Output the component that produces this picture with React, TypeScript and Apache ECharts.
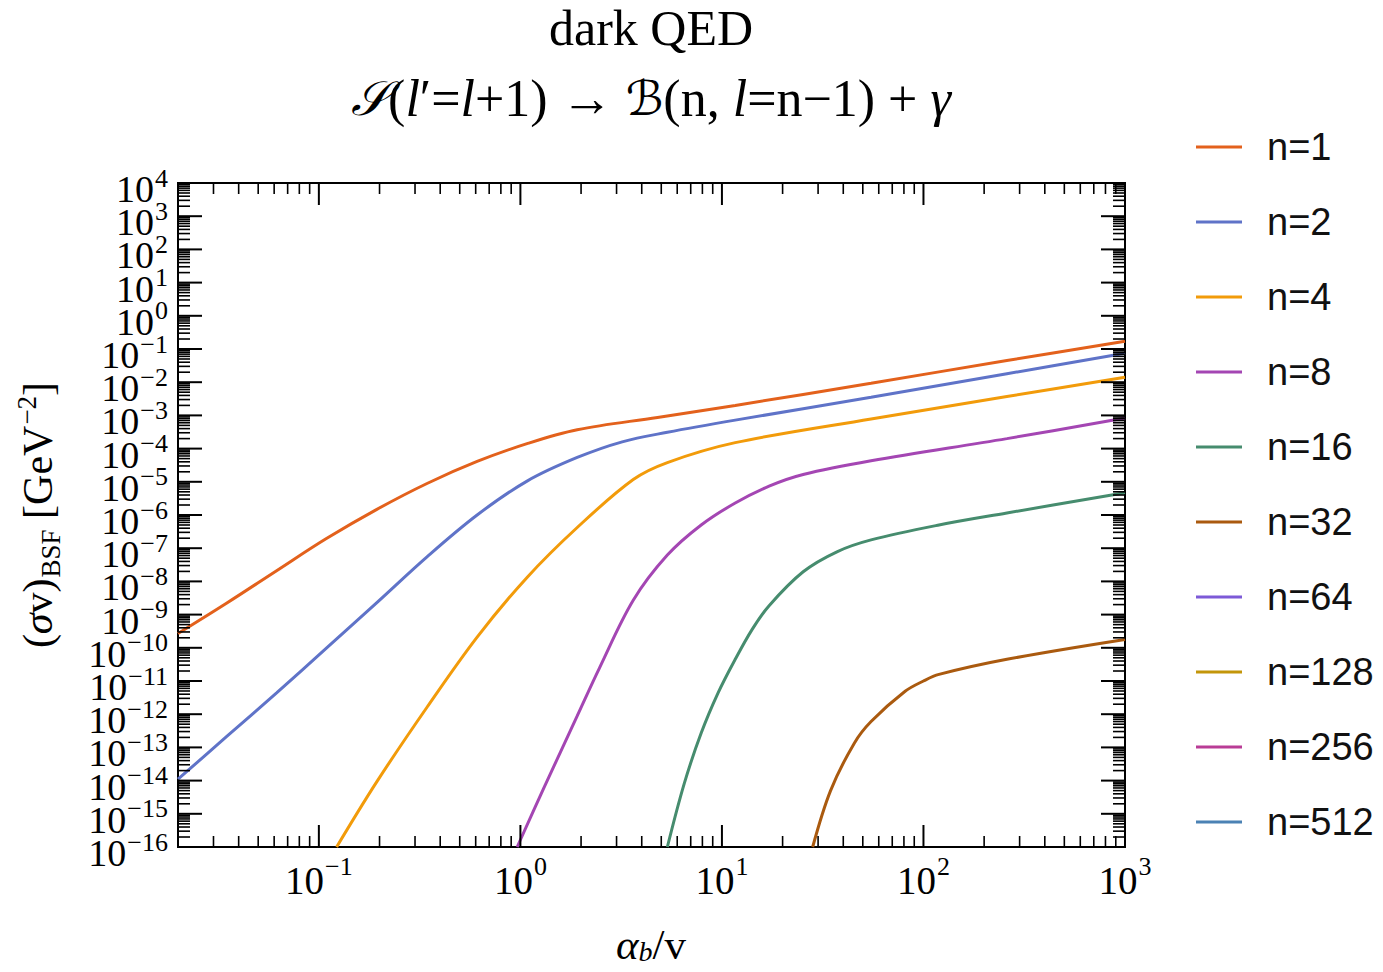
import React, { useEffect, useRef } from "react";
import * as echarts from "echarts";

// ---------- data ----------
const seriesNames = ["n=1", "n=2", "n=4", "n=8", "n=16", "n=32", "n=64", "n=128", "n=256", "n=512"];
const seriesColors = ["#e3611c", "#5f73c8", "#f29b0a", "#a446b3", "#468c6e", "#aa5a0f", "#7d5ad7", "#c3960a", "#b93c96", "#4b82b4"];

// x = alpha_b / v ; y = (sigma v)_BSF [GeV^-2]
const n1X = [0.02, 0.0348, 0.0617, 0.109, 0.194, 0.344, 0.61, 1.079, 1.914, 4.79, 11.64, 54.95, 259.4, 1000];
const n1Y = [2.7e-10, 2.2e-9, 2.1e-8, 1.95e-7, 1.48e-6, 8.9e-6, 4.1e-5, 1.41e-4, 3.7e-4, 8.7e-4, 2.0e-3, 9.3e-3, 4.5e-2, 0.17];

const n2X = [0.02, 0.0348, 0.0617, 0.109, 0.194, 0.344, 0.61, 1.079, 1.914, 3.2, 5.36, 11.64, 54.95, 259.4, 1000];
const n2Y = [1.1e-14, 2.1e-13, 4.4e-12, 9.8e-11, 2.3e-9, 5.5e-8, 1.0e-6, 1.05e-5, 5.4e-5, 1.6e-4, 3.1e-4, 7.2e-4, 3.5e-3, 1.8e-2, 7.4e-2];

const n4X = [0.1225, 0.194, 0.344, 0.61, 1.079, 1.914, 3.63, 5.36, 11.64, 54.95, 259.4, 1000];
const n4Y = [1e-16, 9.3e-15, 1.62e-12, 2.1e-10, 1.32e-8, 4.2e-7, 1.17e-5, 3.8e-5, 1.51e-4, 7.8e-4, 3.7e-3, 1.41e-2];

const n8X = [0.964, 1.306, 1.914, 2.47, 3.63, 5.36, 7.89, 11.64, 17.14, 25.3, 54.95, 259.4, 1000];
const n8Y = [1e-16, 5.9e-15, 8.9e-13, 2.5e-11, 2.7e-9, 6.2e-8, 5.0e-7, 2.3e-6, 7.4e-6, 1.66e-5, 4.3e-5, 2.0e-4, 8.3e-4];

const n16X = [5.36, 6.5, 7.89, 9.57, 11.64, 14.13, 17.14, 25.3, 37.2, 54.95, 119.4, 259.4, 1000];
const n16Y = [1e-16, 8.1e-15, 2.7e-13, 4.4e-12, 4.5e-11, 3.6e-10, 1.86e-9, 1.95e-8, 7.8e-8, 1.78e-7, 5.0e-7, 1.15e-6, 4.7e-6];

const n32X = [28.2, 34.6, 45.3, 54.95, 81.1, 100, 119.4, 259.4, 1000];
const n32Y = [1e-16, 5.0e-15, 1.32e-13, 6.0e-13, 4.9e-12, 1.0e-11, 1.58e-11, 4.5e-11, 1.78e-10];

// n = 64 ... 512 lie below the plotted range: no visible points
const seriesX = [n1X, n2X, n4X, n8X, n16X, n32X, [], [], [], []];
const seriesY = [n1Y, n2Y, n4Y, n8Y, n16Y, n32Y, [], [], [], []];

const X_MIN = 0.02;
const X_MAX = 1000;
const Y_MIN = 1e-16;
const Y_MAX = 1e4;
const xTickExponents = [-1, 0, 1, 2, 3];
const yTickExponents = [-16, -15, -14, -13, -12, -11, -10, -9, -8, -7, -6, -5, -4, -3, -2, -1, 0, 1, 2, 3, 4];

const SERIF = "'Liberation Serif', 'Times New Roman', serif";
const SANS = "'Liberation Sans', Arial, sans-serif";

const expText = (e: number) => (e < 0 ? "\u2212" + String(-e) : String(e));

function buildTicks() {
  // [x, y, kind] kind: 1 x-minor, 2 x-major, 3 y-minor, 4 y-major (labelled)
  const out: number[][] = [];
  for (let d = -2; d <= 3; d++) {
    for (let m = 1; m <= 9; m++) {
      const v = m * Math.pow(10, d);
      if (v < X_MIN * 0.999 || v > X_MAX * 1.001) continue;
      out.push([v, 1, m === 1 ? 2 : 1]);
    }
  }
  for (let d = -16; d <= 4; d++) {
    for (let m = 1; m <= 9; m++) {
      const v = m * Math.pow(10, d);
      if (v < Y_MIN * 0.999 || v > Y_MAX * 1.001) continue;
      out.push([1, v, m === 1 ? 4 : 3]);
    }
  }
  return out;
}

const yLabelRich = {
  b: { fontFamily: SERIF, fontSize: 38, lineHeight: 38, fill: "#000", padding: [6, 0, 10, 0], verticalAlign: "top" },
  s: { fontFamily: SERIF, fontSize: 26, lineHeight: 26, fill: "#000", padding: [1, 0, 0, 1], verticalAlign: "top" },
};

export default function App() {
  const ref = useRef<HTMLDivElement>(null);
  useEffect(() => {
    document.body.style.margin = "0";
    if (!ref.current) return;
    const chart = echarts.init(ref.current, null, { renderer: "svg" });

    const lineSeries = seriesNames.map((name, i) => ({
      name,
      type: "line",
      data: seriesX[i].map((x, j) => [x, seriesY[i][j]]),
      showSymbol: false,
      symbol: "none",
      smooth: 0.35,
      clip: true,
      z: 3,
      color: seriesColors[i],
      lineStyle: { width: 3, color: seriesColors[i] },
      itemStyle: { color: seriesColors[i] },
    }));

    const tickSeries = {
      type: "custom",
      name: "ticks",
      data: buildTicks(),
      encode: { x: 0, y: 1 },
      clip: false,
      silent: true,
      z: 5,
      renderItem: (_p: any, api: any) => {
        const a = api.value(0);
        const b = api.value(1);
        const k = api.value(2);
        const st = { stroke: "#000", lineWidth: k === 2 || k === 4 ? 2 : 1.6 };
        if (k <= 2) {
          const len = k === 2 ? 22 : 11;
          const p1 = api.coord([a, Y_MIN]);
          const p2 = api.coord([a, Y_MAX]);
          return {
            type: "group",
            children: [
              { type: "line", shape: { x1: p1[0], y1: p1[1], x2: p1[0], y2: p1[1] - len }, style: st },
              { type: "line", shape: { x1: p2[0], y1: p2[1], x2: p2[0], y2: p2[1] + len }, style: st },
            ],
          };
        }
        const len = k === 4 ? 24 : 12;
        const p1 = api.coord([X_MIN, b]);
        const p2 = api.coord([X_MAX, b]);
        const children: any[] = [
          { type: "line", shape: { x1: p1[0], y1: p1[1], x2: p1[0] + len, y2: p1[1] }, style: st },
          { type: "line", shape: { x1: p2[0], y1: p2[1], x2: p2[0] - len, y2: p2[1] }, style: st },
        ];
        if (k === 4) {
          const e = Math.round(Math.log10(b));
          if (yTickExponents.indexOf(e) >= 0) {
            children.push({
              type: "text",
              x: p1[0] - 10,
              y: p1[1],
              style: {
                text: "{b|10}{s|" + expText(e) + "}",
                rich: yLabelRich,
                align: "right",
                verticalAlign: "middle",
                textAlign: "right",
                textVerticalAlign: "middle",
              },
            });
          }
        }
        return { type: "group", children };
      },
    };

    const xLabelFormatter = (v: number) => {
      const e = Math.log10(v);
      const r = Math.round(e);
      if (Math.abs(e - r) > 1e-6 || xTickExponents.indexOf(r) < 0) return "";
      return "{b|10}{s|" + expText(r) + "}";
    };

    const option: any = {
      animation: false,
      backgroundColor: "#fff",
      grid: {
        left: 178,
        top: 183,
        width: 947,
        height: 664,
        show: true,
        borderColor: "#000",
        borderWidth: 2,
        backgroundColor: "transparent",
        containLabel: false,
      },
      xAxis: {
        type: "log",
        logBase: 10,
        min: X_MIN,
        max: X_MAX,
        axisLine: { show: false },
        axisTick: { show: false },
        splitLine: { show: false },
        minorTick: { show: false },
        axisLabel: {
          margin: 4,
          showMinLabel: true,
          showMaxLabel: true,
          hideOverlap: false,
          formatter: xLabelFormatter,
          rich: {
            b: { fontFamily: SERIF, fontSize: 39, lineHeight: 39, color: "#000", padding: [10, 0, 0, 0], verticalAlign: "top" },
            s: { fontFamily: SERIF, fontSize: 26, lineHeight: 26, color: "#000", padding: [2, 0, 0, 1], verticalAlign: "top" },
          },
        },
      },
      yAxis: {
        type: "log",
        logBase: 10,
        min: Y_MIN,
        max: Y_MAX,
        interval: 1,
        splitNumber: 20,
        axisLine: { show: false },
        axisTick: { show: false },
        splitLine: { show: false },
        minorTick: { show: false },
        axisLabel: { show: false },
      },
      legend: {
        orient: "vertical",
        left: 1196,
        top: 128,
        padding: 0,
        itemWidth: 46,
        itemHeight: 3,
        itemGap: 37,
        icon: "rect",
        data: seriesNames,
        textStyle: { fontFamily: SANS, fontSize: 38, lineHeight: 38, color: "#111", padding: [0, 0, 0, 20] },
      },
      graphic: [
        {
          type: "text",
          x: 651,
          y: 28,
          style: { text: "dark QED", font: "50px " + SERIF, fill: "#000", textAlign: "center", textVerticalAlign: "middle" },
        },
        {
          type: "text",
          x: 651,
          y: 98,
          style: {
            text:
              "{sc|\uD835\uDCAE}{m|(}{i|l}{m|\u2032=}{i|l}{m|+1) \u2192 }{sc|\u212C}{m|(n, }{i|l}{m|=n\u22121) + }{i|\u03B3}",
            textAlign: "center",
            textVerticalAlign: "middle",
            rich: {
              m: { fontFamily: SERIF, fontSize: 52, fill: "#000" },
              i: { fontFamily: SERIF, fontSize: 52, fontStyle: "italic", fill: "#000" },
              sc: { fontFamily: "'DejaVu Serif', 'DejaVu Sans', serif", fontSize: 48, fontStyle: "italic", fill: "#000" },
            },
          },
        },
        {
          type: "text",
          x: 30,
          y: 515,
          rotation: Math.PI / 2,
          style: {
            text: "{m|(}{i|\u03C3}{m|v)}{sub|BSF}{m| [GeV}{sup|\u22122}{m|]}",
            textAlign: "center",
            textVerticalAlign: "middle",
            rich: {
              m: { fontFamily: SERIF, fontSize: 42, lineHeight: 42, fill: "#000", padding: [8, 0, 0, 0], verticalAlign: "top" },
              i: { fontFamily: SERIF, fontSize: 42, lineHeight: 42, fontStyle: "italic", fill: "#000", padding: [8, 0, 0, 0], verticalAlign: "top" },
              sup: { fontFamily: SERIF, fontSize: 27, lineHeight: 27, fill: "#000", padding: [4, 0, 0, 1], verticalAlign: "top" },
              sub: { fontFamily: SERIF, fontSize: 27, lineHeight: 27, fill: "#000", padding: [28, 0, 0, 1], verticalAlign: "top" },
            },
          },
        },
        {
          type: "text",
          x: 651,
          y: 940,
          style: {
            text: "{i|\u03B1}{sub|b}{m|/v}",
            textAlign: "center",
            textVerticalAlign: "middle",
            rich: {
              m: { fontFamily: SERIF, fontSize: 43, lineHeight: 43, fill: "#000", padding: [4, 0, 0, 0], verticalAlign: "top" },
              i: { fontFamily: SERIF, fontSize: 43, lineHeight: 43, fontStyle: "italic", fill: "#000", padding: [4, 0, 0, 0], verticalAlign: "top" },
              sub: { fontFamily: SERIF, fontSize: 28, lineHeight: 28, fontStyle: "italic", fill: "#000", padding: [19, 0, 0, 0], verticalAlign: "top" },
            },
          },
        },
      ],
      series: [...lineSeries, tickSeries],
    };

    chart.setOption(option);
    return () => {
      chart.dispose();
    };
  }, []);

  return <div ref={ref} style={{ width: 1383, height: 972 }} />;
}
